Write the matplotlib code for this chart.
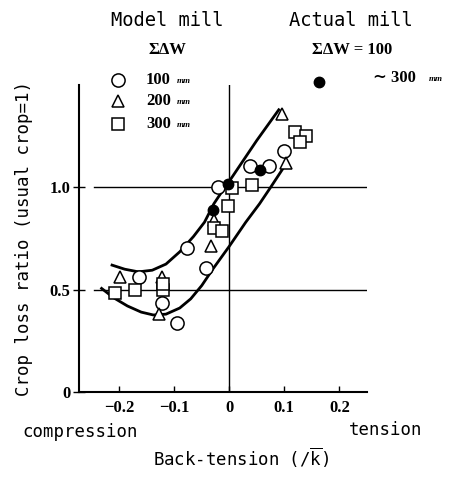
import numpy as np
import matplotlib
matplotlib.use('Agg')
import matplotlib.pyplot as plt

# model mill data, sigma dW = 100 / 200 / 300 mm
c100_x = [-0.021, 0.038, 0.073, 0.100, -0.077, -0.042, -0.164, -0.122, -0.095]
c100_y = [1.00, 1.107, 1.107, 1.18, 0.706, 0.608, 0.562, 0.437, 0.338]
t200_x = [-0.198, -0.122, -0.128, -0.033, -0.027, 0.104, 0.095]
t200_y = [0.562, 0.562, 0.383, 0.712, 0.842, 1.118, 1.36]
s300_x = [-0.207, -0.171, -0.121, -0.121, -0.027, -0.013, -0.003, 0.005, 0.041, 0.120, 0.140, 0.128]
s300_y = [0.484, 0.50, 0.50, 0.53, 0.80, 0.787, 0.907, 0.997, 1.013, 1.27, 1.25, 1.22]
# actual mill
act_x = [-0.029, -0.003, 0.055]
act_y = [0.89, 1.017, 1.086]

# band curves
up_x = [-0.213, -0.19, -0.165, -0.14, -0.115, -0.09, -0.065, -0.045, -0.028, -0.012, 0.005, 0.03, 0.05, 0.07, 0.09]
up_y = [0.62, 0.60, 0.587, 0.595, 0.625, 0.685, 0.76, 0.83, 0.92, 0.985, 1.05, 1.15, 1.23, 1.305, 1.38]
lo_x = [-0.232, -0.21, -0.185, -0.16, -0.138, -0.115, -0.09, -0.07, -0.05, -0.03, 0.0, 0.03, 0.055, 0.075, 0.096, 0.105]
lo_y = [0.506, 0.46, 0.42, 0.39, 0.376, 0.38, 0.41, 0.455, 0.52, 0.60, 0.712, 0.83, 0.92, 1.0, 1.086, 1.125]

xticks = [-0.2, -0.1, 0, 0.1, 0.2]
xlabels = ['\u22120.2', '\u22120.1', '0', '0.1', '0.2']
yticks = [0, 0.5, 1.0]
ylabels = ['0', '0.5', '1.0']

mono = 'DejaVu Sans Mono'
serif = ['Liberation Serif', 'DejaVu Serif']

fig = plt.figure(figsize=(4.49, 4.79), dpi=100)
ax = fig.add_axes([0.176, 0.182, 0.641, 0.640])
ax.set_xlim(-0.273, 0.25)
ax.set_ylim(0, 1.5)

for s in ['top', 'right']:
    ax.spines[s].set_visible(False)
for s in ['left', 'bottom']:
    ax.spines[s].set_linewidth(1.5)

ax.axvline(0, color='black', lw=1.0, zorder=1)
ax.plot([-0.245, 0.25], [1.0, 1.0], color='black', lw=1.0, zorder=1)
ax.plot([-0.245, 0.25], [0.5, 0.5], color='black', lw=1.0, zorder=1)

ax.plot(up_x, up_y, color='black', lw=2.0, zorder=2)
ax.plot(lo_x, lo_y, color='black', lw=2.0, zorder=2)

kw = dict(linestyle='none', markerfacecolor='white', markeredgecolor='black', markeredgewidth=1.1, zorder=3)
ax.plot(c100_x, c100_y, marker='o', markersize=9.5, **kw)
ax.plot(t200_x, t200_y, marker='^', markersize=9, **kw)
ax.plot(s300_x, s300_y, marker='s', markersize=8.5, **kw)
ax.plot(act_x, act_y, marker='o', markersize=7.5, linestyle='none', color='black', zorder=4)

ax.set_xticks(xticks)
ax.set_xticklabels(xlabels, fontfamily=serif, fontweight='bold', fontsize=12)
ax.set_yticks(yticks)
ax.set_yticklabels(ylabels, fontfamily=serif, fontweight='bold', fontsize=12)
ax.tick_params(axis='x', direction='in', length=4, width=1, pad=6)
ax.tick_params(axis='y', direction='inout', length=8, width=1, pad=2)

ax.set_ylabel('Crop loss ratio (usual crop=1)', fontfamily=mono, fontsize=12.5, labelpad=12)

# header / legend texts, figure pixel coordinates
def ftxt(px, py, s, **k):
    fig.text(px / 449, 1 - py / 479, s, **k)

ftxt(167, 20, 'Model mill', fontfamily=mono, fontsize=13.5, ha='center', va='center')
ftxt(351, 20, 'Actual mill', fontfamily=mono, fontsize=13.5, ha='center', va='center')
ftxt(167, 50, '\u03a3\u0394W', fontfamily=serif, fontweight='bold', fontsize=12, ha='center', va='center')
ftxt(312, 50, '\u03a3\u0394W = 100', fontfamily=serif, fontweight='bold', fontsize=12, ha='left', va='center')
ftxt(373, 78, '\u223c 300', fontfamily=serif, fontweight='bold', fontsize=12, ha='left', va='center')
ftxt(429, 79, 'mm', fontfamily=serif, fontweight='bold', style='italic', fontsize=6.5, ha='left', va='center')

leg_lbl = ['100', '200', '300']
leg_mk = ['o', '^', 's']
leg_sz = [9.5, 9, 8.5]
leg_y = [80, 101, 124]
for lbl, mk, sz, py in zip(leg_lbl, leg_mk, leg_sz, leg_y):
    fig.add_artist(plt.Line2D([118 / 449], [1 - py / 479], marker=mk, markersize=sz, transform=fig.transFigure, **kw))
    ftxt(146, py, lbl, fontfamily=serif, fontweight='bold', fontsize=12, ha='left', va='center')
    ftxt(177, py + 1, 'mm', fontfamily=serif, fontweight='bold', style='italic', fontsize=6.5, ha='left', va='center')
fig.add_artist(plt.Line2D([319 / 449], [1 - 82 / 479], marker='o', markersize=7.5, color='black', transform=fig.transFigure))

ftxt(22, 432, 'compression', fontfamily=mono, fontsize=12.5, ha='left', va='center')
ftxt(422, 430, 'tension', fontfamily=mono, fontsize=12.5, ha='right', va='center')
ftxt(241, 458, r'Back-tension (/$\overline{\mathtt{k}}$)', fontfamily=mono, fontsize=12.5, ha='center', va='center')

fig.savefig('out.png', dpi=100)
